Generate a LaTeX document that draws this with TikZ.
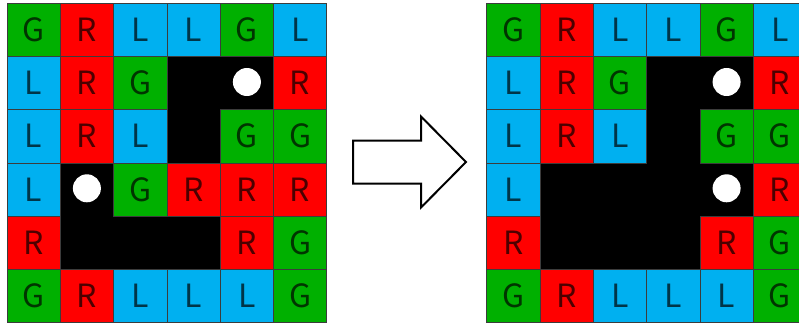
\documentclass[tikz,border=0pt]{standalone}
\usepackage{fontspec}
\usepackage{tikz}
\newfontfamily\cellfont{Noto Sans CJK JP}
\definecolor{cellgreen}{RGB}{0,176,0}
\definecolor{cellred}{RGB}{255,0,0}
\definecolor{cellblue}{RGB}{0,176,240}
\definecolor{cellgrid}{RGB}{60,60,60}
\tikzset{
  cell/.style={shape=rectangle,minimum size=53.3pt,inner sep=0pt,outer sep=0pt,draw=cellgrid,line width=0.8pt,font=\cellfont\fontsize{32pt}{32pt}\selectfont},
  cellG/.style={cell,fill=cellgreen,text=cellgreen!30!black},
  cellR/.style={cell,fill=cellred,text=cellred!30!black},
  cellL/.style={cell,fill=cellblue,text=cellblue!30!black},
  board/.style={shape=rectangle,minimum size=319.8pt,inner sep=0pt,outer sep=0pt,fill=black},
  stone/.style={shape=circle,minimum size=28pt,inner sep=0pt,fill=white},
  blockarrow/.style={draw=black,line width=2pt,fill=white,line join=miter}
}

\begin{document}
\begin{tikzpicture}[x=1pt,y=-1pt]
\useasboundingbox (0,0) rectangle (799,326);
% before
\node[board] (leftboard) at (166.9,162.9) {};
\foreach \row [count=\r from 0] in {{G,R,L,L,G,L},{L,R,G,K,K,R},{L,R,L,K,G,G},{L,K,G,R,R,R},{R,K,K,K,R,G},{G,R,L,L,L,G}}
  \foreach \c [count=\k from 0] in \row
    {\if\c K\else\node[cell\c] (left-\r-\k) at (33.65+53.3*\k,29.65+53.3*\r) {\c};\fi}
\node[stone] (leftstone-a) at (246.9,82.0) {};
\node[stone] (leftstone-b) at (86.9,188.3) {};
% after
\node[board] (rightboard) at (646.6,162.9) {};
\foreach \row [count=\r from 0] in {{G,R,L,L,G,L},{L,R,G,K,K,R},{L,R,L,K,G,G},{L,K,K,K,K,R},{R,K,K,K,R,G},{G,R,L,L,L,G}}
  \foreach \c [count=\k from 0] in \row
    {\if\c K\else\node[cell\c] (right-\r-\k) at (513.35+53.3*\k,29.65+53.3*\r) {\c};\fi}
\node[stone] (rightstone-a) at (726.6,82.0) {};
\node[stone] (rightstone-b) at (726.6,188.3) {};
% arrow
\draw[blockarrow] (353,140.5) -- (421,140.5) -- (421,116.5) -- (466,162) -- (421,207.5) -- (421,183.5) -- (353,183.5) -- cycle;
\end{tikzpicture}
\end{document}
